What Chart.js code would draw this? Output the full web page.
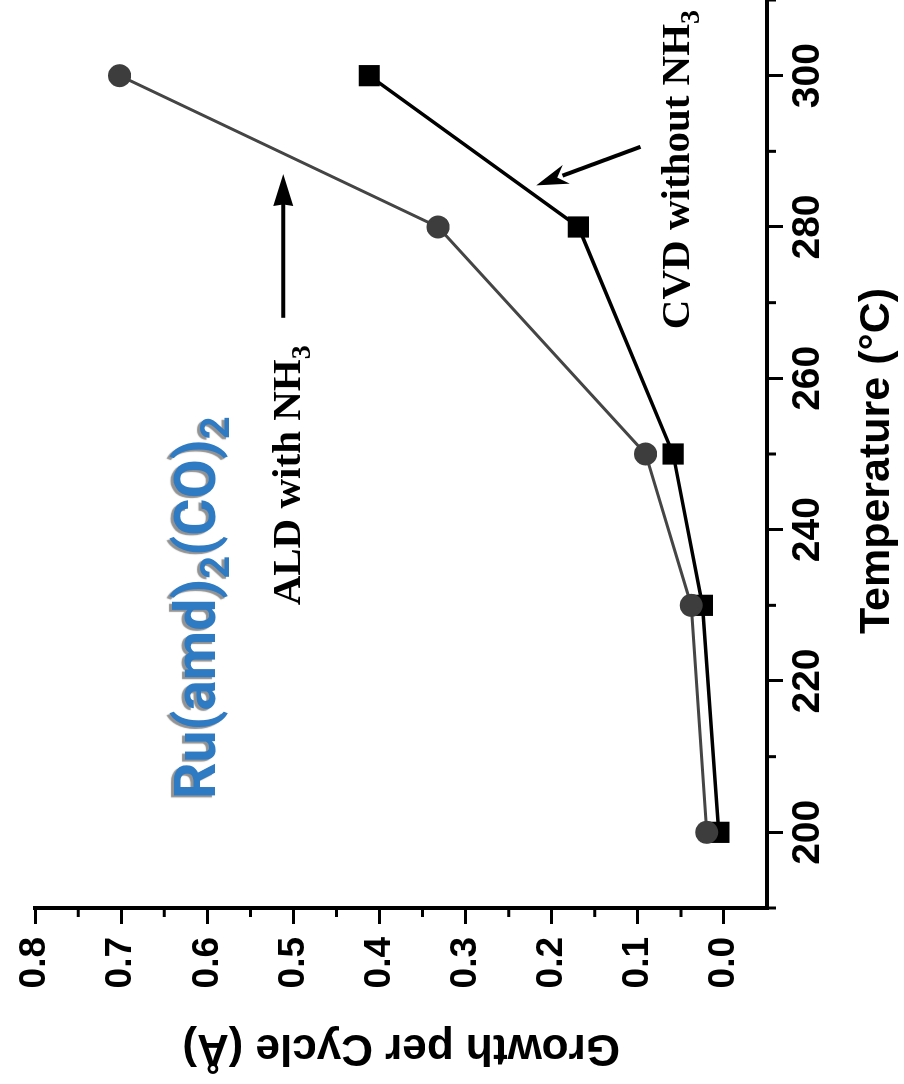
<!DOCTYPE html>
<html>
<head>
<meta charset="utf-8">
<script src="https://cdn.jsdelivr.net/npm/chart.js@4/dist/chart.umd.min.js"></script>
<style>
  html, body { margin: 0; padding: 0; background: #fff; width: 904px; height: 1084px; overflow: hidden; }
  /* the figure is printed turned a quarter turn anticlockwise */
  #wrap { position: absolute; left: 0; top: 0; width: 1099px; height: 904px;
          transform-origin: 0 0; transform: translate(0, 1084px) rotate(-90deg); }
</style>
</head>
<body>
<div id="wrap"><canvas id="chart" width="1099" height="904"></canvas></div>
<script>
/* ---- data ---- */
const TEMPS   = [200, 230, 250, 280, 300];
const ALD_GPC = [0.02, 0.038, 0.091, 0.332, 0.702];
const CVD_GPC = [0.006, 0.025, 0.059, 0.169, 0.412];

const TEMP_TICKS = [200, 220, 240, 260, 280, 300];
const TEMP_MINOR = [190, 210, 230, 250, 270, 290, 310];
const GPC_TICKS  = [0.0, 0.1, 0.2, 0.3, 0.4, 0.5, 0.6, 0.7, 0.8];
const GPC_MINOR  = [0.05, 0.15, 0.25, 0.35, 0.45, 0.55, 0.65, 0.75];

const SANS  = "'Liberation Sans', Arial, sans-serif";
const SERIF = "'Liberation Serif', 'Times New Roman', serif";

/* ---- short ticks between the labelled ones, and the temperature title ---- */
const minorTicks = {
  id: "minorTicks",
  afterDraw(c) {
    const ctx = c.ctx, a = c.chartArea, x = c.scales.x, y = c.scales.y;
    ctx.save();
    ctx.strokeStyle = "#000";
    ctx.lineWidth = 3;
    ctx.beginPath();
    TEMP_MINOR.forEach(v => {
      const px = x.getPixelForValue(v);
      ctx.moveTo(px, a.bottom); ctx.lineTo(px, a.bottom + 9);
    });
    GPC_MINOR.forEach(v => {
      const py = y.getPixelForValue(v);
      ctx.moveTo(a.left, py); ctx.lineTo(a.left - 9, py);
    });
    ctx.stroke();

    // axis title sits a little off the centre of the axis in the original
    ctx.fillStyle = "#000";
    ctx.font = "bold 43px " + SANS;
    ctx.textAlign = "center";
    ctx.textBaseline = "middle";
    ctx.fillText("Temperature (°C)", (a.left + a.right) / 2 - 7, x.bottom - 27);
    ctx.restore();
  }
};

/* ---- text with subscripts, arrows ---- */
function drawParts(ctx, parts, x, y) {
  parts.forEach(p => {
    ctx.font = p.font;
    ctx.fillText(p.text, x, y + (p.dy || 0));
    x += ctx.measureText(p.text).width;
  });
}

function arrow(ctx, x1, y1, x2, y2, notch) {
  const ang = Math.atan2(y2 - y1, x2 - x1);
  const len = 32, half = 10;
  const bx = x2 - len * Math.cos(ang), by = y2 - len * Math.sin(ang);
  ctx.beginPath();
  ctx.moveTo(x1, y1); ctx.lineTo(bx + 4 * Math.cos(ang), by + 4 * Math.sin(ang));
  ctx.lineWidth = 4; ctx.strokeStyle = "#000"; ctx.stroke();
  ctx.beginPath();
  ctx.moveTo(x2, y2);
  ctx.lineTo(bx + half * Math.sin(ang), by - half * Math.cos(ang));
  ctx.lineTo(bx + notch * len * Math.cos(ang), by + notch * len * Math.sin(ang));
  ctx.lineTo(bx - half * Math.sin(ang), by + half * Math.cos(ang));
  ctx.closePath();
  ctx.fillStyle = "#000"; ctx.fill();
}

const notes = {
  id: "notes",
  afterDatasetsDraw(c) {
    const ctx = c.ctx, x = c.scales.x, y = c.scales.y;
    ctx.save();
    ctx.textBaseline = "alphabetic";
    ctx.fillStyle = "#000";

    // ALD label + arrow
    drawParts(ctx, [
      { text: "ALD with NH", font: "bold 41px " + SERIF },
      { text: "3", font: "bold 28px " + SERIF, dy: 10 }
    ], x.getPixelForValue(230), y.getPixelForValue(0.492));
    arrow(ctx, x.getPixelForValue(268), y.getPixelForValue(0.512),
               x.getPixelForValue(287), y.getPixelForValue(0.512), 0.05);

    // CVD label + arrow
    ctx.fillStyle = "#000";
    drawParts(ctx, [
      { text: "CVD without NH", font: "bold 41px " + SERIF },
      { text: "3", font: "bold 28px " + SERIF, dy: 10 }
    ], x.getPixelForValue(266.5), y.getPixelForValue(0.041));
    arrow(ctx, x.getPixelForValue(290.6), y.getPixelForValue(0.097),
               x.getPixelForValue(285.5), y.getPixelForValue(0.218), 0.3);

    // precursor name
    ctx.fillStyle = "#2e7bc4";
    ctx.shadowColor = "rgba(110,110,110,0.75)";
    ctx.shadowOffsetX = -2;
    ctx.shadowOffsetY = -3;
    ctx.shadowBlur = 1;
    drawParts(ctx, [
      { text: "Ru(amd)", font: "bold 57px Roboto, " + SANS },
      { text: "2", font: "bold 40px Roboto, " + SANS, dy: 14 },
      { text: "(CO)", font: "bold 57px Roboto, " + SANS },
      { text: "2", font: "bold 40px Roboto, " + SANS, dy: 14 }
    ], x.getPixelForValue(204.4), y.getPixelForValue(0.591));
    ctx.restore();
  }
};

new Chart(document.getElementById("chart"), {
  type: "line",
  data: {
    datasets: [
      {
        label: "ALD with NH3",
        data: TEMPS.map((t, i) => ({ x: t, y: ALD_GPC[i] })),
        borderColor: "#454545", borderWidth: 3,
        pointStyle: "circle", pointRadius: 11.5, pointBorderWidth: 0,
        pointBackgroundColor: "#3d3d3d", tension: 0
      },
      {
        label: "CVD without NH3",
        data: TEMPS.map((t, i) => ({ x: t, y: CVD_GPC[i] })),
        borderColor: "#000", borderWidth: 3.5,
        pointStyle: "rect", pointRadius: 15, pointBorderWidth: 0,
        pointBackgroundColor: "#000", tension: 0
      }
    ]
  },
  options: {
    responsive: false, animation: false, devicePixelRatio: 1,
    layout: { padding: { top: 26, left: 0, right: 0, bottom: 0 } },
    plugins: { legend: { display: false }, tooltip: { enabled: false } },
    scales: {
      x: {
        type: "linear", position: "bottom", min: 190, max: 310,
        afterBuildTicks: s => { s.ticks = TEMP_TICKS.map(v => ({ value: v })); },
        afterFit: s => { s.height = 137; },
        border: { display: true, color: "#000", width: 4 },
        grid: { display: true, drawOnChartArea: false, drawTicks: true, tickLength: 16, tickWidth: 3, tickColor: "#000" },
        ticks: { color: "#000", padding: 2, maxRotation: 0, autoSkip: false,
                 font: { family: SANS, size: 39, weight: "bold" }, callback: v => String(v) },
        title: { display: false }
      },
      y: {
        type: "linear", position: "left", min: -0.05, max: 0.8,
        afterBuildTicks: s => { s.ticks = GPC_TICKS.map(v => ({ value: v })); },
        afterFit: s => { s.width = 176; },
        border: { display: true, color: "#000", width: 4 },
        grid: { display: true, drawOnChartArea: false, drawTicks: true, tickLength: 16, tickWidth: 3, tickColor: "#000" },
        ticks: { color: "#000", padding: 13, autoSkip: false,
                 font: { family: SANS, size: 37, weight: "bold" }, callback: v => Number(v).toFixed(1) },
        title: { display: true, text: "Growth per Cycle (Å)", color: "#000", padding: { top: 10, bottom: 0 },
                 font: { family: SANS, size: 44, weight: "bold", lineHeight: 1.2 } }
      }
    }
  },
  plugins: [minorTicks, notes]
});
</script>
</body>
</html>
